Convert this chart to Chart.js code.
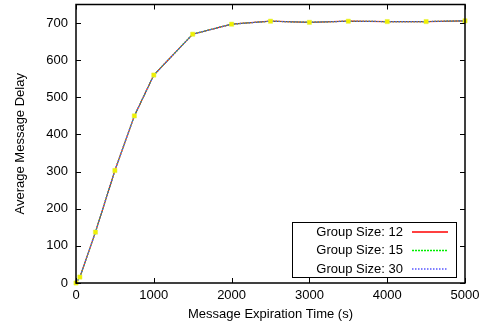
<!DOCTYPE html>
<html lang="en">
<head>
    <meta charset="UTF-8">
    <title>Average Message Delay</title>
    <script src="https://cdn.jsdelivr.net/npm/chart.js"></script>
    <style>
        html, body { margin: 0; padding: 0; background: #fff; }
        #wrap { width: 487px; height: 329px; }
    </style>
</head>
<body>
    <div id="wrap"><canvas id="delayChart" width="487" height="329"></canvas></div>

    <script>
        // data
        const expirationTimes = [0, 50, 250, 500, 750, 1000, 1500, 2000, 2500, 3000, 3500, 4000, 4500, 5000];
        const delayGroup12 = [0, 16, 137, 303, 450, 560, 670, 697, 705, 702, 705, 704, 704, 706];
        const delayGroup15 = [0, 16, 137, 303, 450, 560, 670, 697, 705, 702, 705, 704, 704, 706];
        const delayGroup30 = [0, 16, 137, 303, 450, 560, 670, 697, 705, 702, 705, 704, 704, 706];
        const seriesLabels = ['Group Size: 12', 'Group Size: 15', 'Group Size: 30'];
        const xTicks = [0, 1000, 2000, 3000, 4000, 5000];
        const yTicks = [0, 100, 200, 300, 400, 500, 600, 700];

        const FONT = '"Liberation Sans", Arial, sans-serif';
        const lineStyles = [
            { color: '#ff0000', dash: [] },
            { color: '#00ee00', dash: [2, 1] },
            { color: '#5555ff', dash: [1.5, 1.5] }
        ];
        const toXY = arr => arr.map((v, i) => ({ x: expirationTimes[i], y: v }));

        // frame, inward ticks on all four sides, and the boxed legend
        const framePlugin = {
            id: 'frame',
            afterDraw(chart) {
                const { ctx, chartArea: a, scales } = chart;
                ctx.save();
                ctx.strokeStyle = '#000';
                ctx.lineWidth = 1;
                ctx.beginPath();
                xTicks.forEach(v => {
                    const px = Math.round(scales.x.getPixelForValue(v)) + 0.5;
                    ctx.moveTo(px, a.bottom); ctx.lineTo(px, a.bottom - 5);
                    ctx.moveTo(px, a.top); ctx.lineTo(px, a.top + 5);
                });
                yTicks.forEach(v => {
                    const py = Math.round(scales.y.getPixelForValue(v)) + 0.5;
                    ctx.moveTo(a.left, py); ctx.lineTo(a.left + 5, py);
                    ctx.moveTo(a.right, py); ctx.lineTo(a.right - 5, py);
                });
                ctx.stroke();
                ctx.lineWidth = 1.5;
                ctx.strokeRect(a.left, a.top, a.right - a.left, a.bottom - a.top);

                // legend
                const bx = a.right - 173, by = a.bottom - 61, bw = 164, bh = 55;
                ctx.fillStyle = '#fff';
                ctx.fillRect(bx, by, bw, bh);
                ctx.lineWidth = 1;
                ctx.strokeStyle = '#000';
                ctx.strokeRect(bx + 0.5, by + 0.5, bw, bh);
                ctx.font = '13px ' + FONT;
                ctx.textAlign = 'right';
                ctx.textBaseline = 'middle';
                seriesLabels.forEach((label, i) => {
                    const ry = by + 10 + i * 18.5;
                    ctx.fillStyle = '#000';
                    ctx.fillText(label, bx + 111, ry);
                    ctx.strokeStyle = lineStyles[i].color;
                    ctx.lineWidth = 1.4;
                    ctx.setLineDash(lineStyles[i].dash);
                    ctx.beginPath();
                    ctx.moveTo(bx + 120, ry);
                    ctx.lineTo(bx + 156, ry);
                    ctx.stroke();
                });
                ctx.restore();
            }
        };

        function lineSet(label, values, i) {
            return {
                label: label,
                data: toXY(values),
                showLine: true,
                borderColor: lineStyles[i].color,
                borderDash: lineStyles[i].dash,
                borderWidth: 1.2,
                pointRadius: 0,
                tension: 0,
                fill: false,
                order: 3 - i
            };
        }

        const tickFont = { family: FONT, size: 13 };

        new Chart(document.getElementById('delayChart').getContext('2d'), {
            type: 'scatter',
            data: {
                datasets: [
                    lineSet(seriesLabels[0], delayGroup12, 0),
                    lineSet(seriesLabels[1], delayGroup15, 1),
                    lineSet(seriesLabels[2], delayGroup30, 2),
                    {
                        label: 'points',
                        data: toXY(delayGroup30),
                        showLine: false,
                        clip: false,
                        order: 0,
                        pointStyle: 'rect',
                        pointRadius: 3,
                        pointBackgroundColor: '#f0f000',
                        pointBorderColor: '#e0f040',
                        pointBorderWidth: 0.5
                    }
                ]
            },
            options: {
                responsive: false,
                animation: false,
                layout: { padding: { left: 0, right: 22, top: 3, bottom: 0 } },
                plugins: { legend: { display: false }, tooltip: { enabled: false } },
                scales: {
                    x: {
                        type: 'linear',
                        min: 0,
                        max: 5000,
                        afterFit(scale) {
                            scale.height = 46;
                            scale.paddingLeft = 0; scale.paddingRight = 0;
                        },
                        afterBuildTicks(scale) { scale.ticks = xTicks.map(v => ({ value: v })); },
                        grid: { display: false, drawTicks: false },
                        border: { display: false },
                        ticks: { color: '#000', font: tickFont, padding: 5, maxRotation: 0, callback: v => String(v) },
                        title: { display: true, text: 'Message Expiration Time (s)', color: '#000',
                                 font: tickFont, padding: { top: 0, bottom: 7 } }
                    },
                    y: {
                        type: 'linear',
                        min: 0,
                        max: 750,
                        afterFit(scale) {
                            scale.width = 76;
                            scale.paddingTop = 0; scale.paddingBottom = 0;
                        },
                        afterBuildTicks(scale) { scale.ticks = yTicks.map(v => ({ value: v })); },
                        grid: { display: false, drawTicks: false },
                        border: { display: false },
                        ticks: { color: '#000', font: tickFont, padding: 8, callback: v => String(v) },
                        title: { display: true, text: 'Average Message Delay', color: '#000',
                                 font: tickFont, padding: { top: 13, bottom: 0 } }
                    }
                }
            },
            plugins: [framePlugin]
        });
    </script>
</body>
</html>
